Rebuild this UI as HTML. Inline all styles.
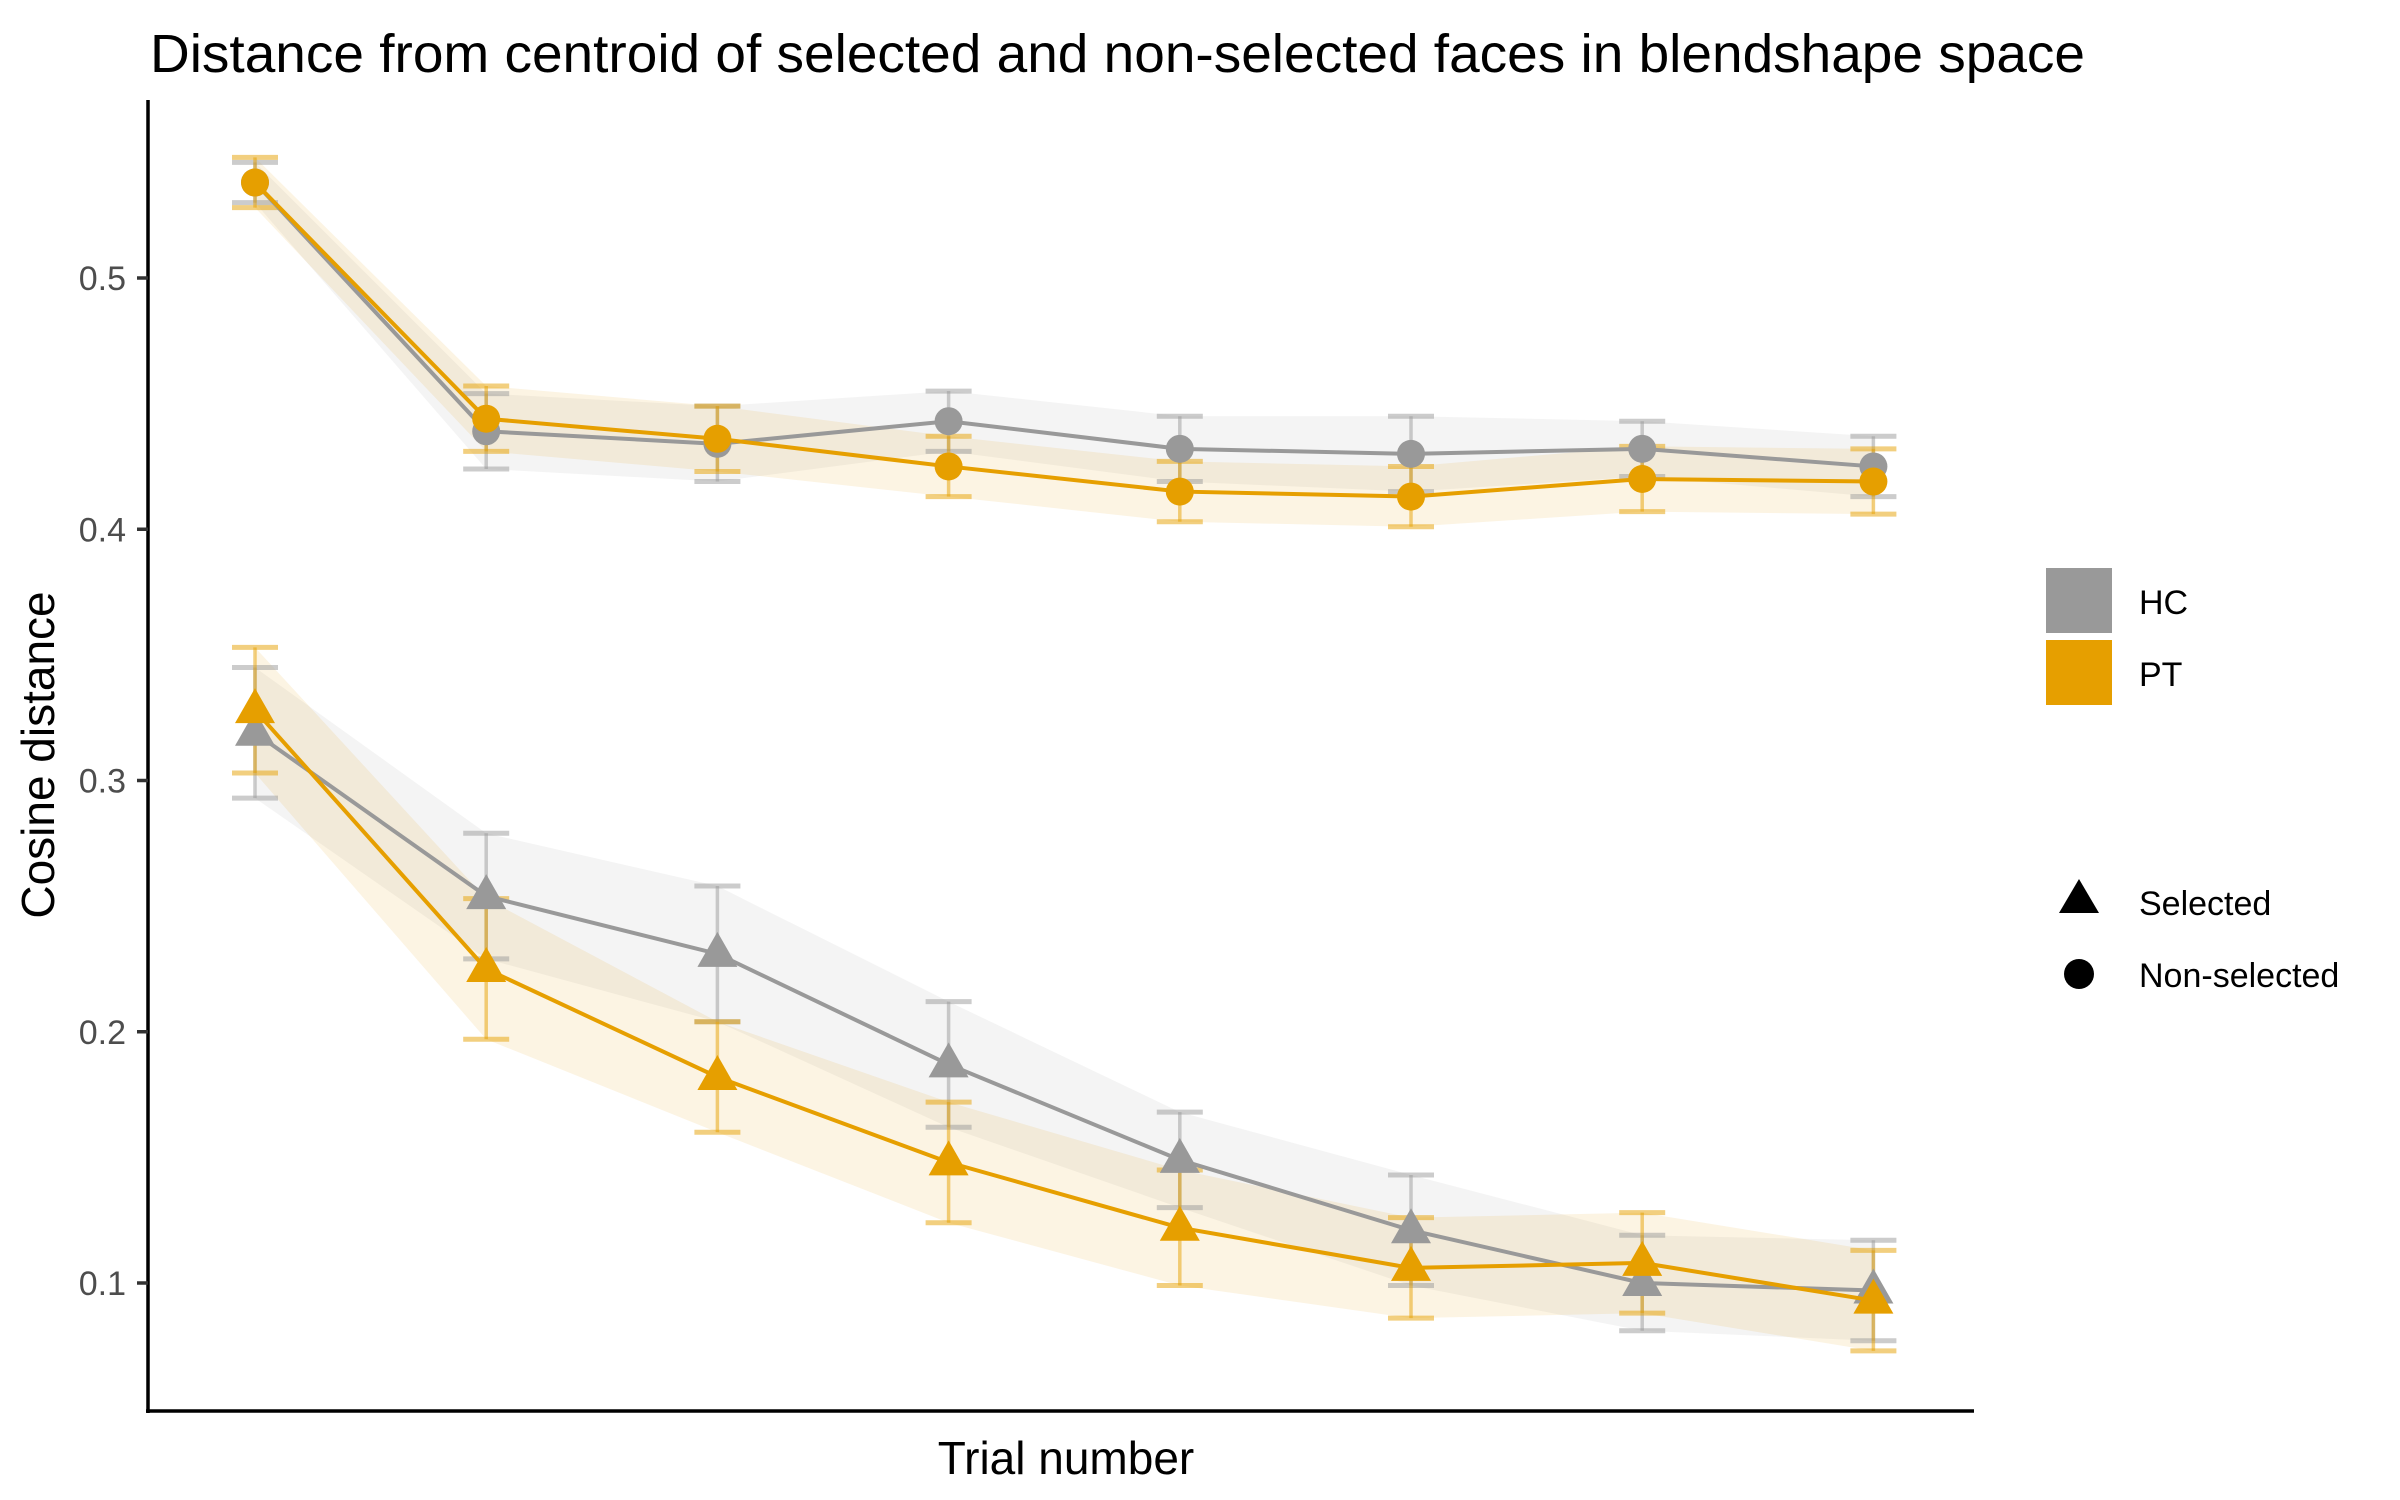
<!DOCTYPE html>
<html><head><meta charset="utf-8"><style>
html,body{margin:0;padding:0;background:#fff;}
svg{display:block;font-family:"Liberation Sans",Arial,sans-serif;}
</style></head><body>
<svg id="chart" width="2400" height="1500" viewBox="0 0 2400 1500" xmlns="http://www.w3.org/2000/svg">
<rect width="2400" height="1500" fill="#fff"/>
<text x="150" y="72" font-size="54" fill="#000" textLength="1935" lengthAdjust="spacingAndGlyphs">Distance from centroid of selected and non-selected faces in blendshape space</text>
<g id="plot"></g>
<line x1="148" y1="100" x2="148" y2="1413" stroke="#000" stroke-width="3.5"/>
<line x1="146" y1="1411" x2="1974" y2="1411" stroke="#000" stroke-width="3.5"/>
<g id="yticks"></g>
<text transform="translate(54,755) rotate(-90)" text-anchor="middle" font-size="46" fill="#000">Cosine distance</text>
<text x="1066" y="1474" text-anchor="middle" font-size="46" fill="#000">Trial number</text>
<g>
<rect x="2046" y="568" width="66" height="65" fill="#999999"/>
<text x="2139" y="614" font-size="34" fill="#000">HC</text>
<rect x="2046" y="640" width="66" height="65" fill="#E69F00"/>
<text x="2139" y="686" font-size="34" fill="#000">PT</text>
</g>
<g>
<polygon points="2079,879 2099,913 2059,913" fill="#000"/>
<text x="2139" y="915" font-size="34" fill="#000">Selected</text>
<circle cx="2079" cy="974" r="15" fill="#000"/>
<text x="2139" y="987" font-size="34" fill="#000">Non-selected</text>
</g>
</svg>
<script>
const trials = [1,2,3,4,5,6,7,8];
const hcNonSel = [0.538,0.439,0.434,0.443,0.432,0.430,0.432,0.425];
const hcNonSelErr = [0.008,0.015,0.015,0.012,0.013,0.015,0.011,0.012];
const ptNonSel = [0.538,0.444,0.436,0.425,0.415,0.413,0.420,0.419];
const ptNonSelErr = [0.010,0.013,0.013,0.012,0.012,0.012,0.013,0.013];
const hcSel = [0.319,0.254,0.231,0.187,0.149,0.121,0.100,0.097];
const hcSelErr = [0.026,0.025,0.027,0.025,0.019,0.022,0.019,0.020];
const ptSel = [0.328,0.225,0.182,0.148,0.122,0.106,0.108,0.093];
const ptSelErr = [0.025,0.028,0.022,0.024,0.023,0.020,0.020,0.020];
const yTicks = [0.1,0.2,0.3,0.4,0.5];
const yTickLabels = ["0.1","0.2","0.3","0.4","0.5"];

const NS = "http://www.w3.org/2000/svg";
function xs(t){ return 255 + (t-1)*231.2; }
function ys(v){ return 278 + (0.5 - v)*2512.5; }
function mk(tag, attrs, parent){
  const e = document.createElementNS(NS, tag);
  for (const k in attrs) e.setAttribute(k, attrs[k]);
  parent.appendChild(e); return e;
}
const plot = document.getElementById('plot');
const yt = document.getElementById('yticks');

yTicks.forEach((v,i)=>{
  const l = mk('line',{x1:137,x2:148,y1:ys(v),y2:ys(v),stroke:'#333','stroke-width':3.5},yt);
  
  
  const t = mk('text',{x:126,y:ys(v)+12,'text-anchor':'end','font-size':34,fill:'#4d4d4d'},yt);
  t.textContent = yTickLabels[i];
  
  
});

const series = [
  {v:hcNonSel,e:hcNonSelErr,c:'#999999',shape:'circle',name:'hc-non-selected'},
  {v:ptNonSel,e:ptNonSelErr,c:'#E69F00',shape:'circle',name:'pt-non-selected'},
  {v:hcSel,e:hcSelErr,c:'#999999',shape:'triangle',name:'hc-selected'},
  {v:ptSel,e:ptSelErr,c:'#E69F00',shape:'triangle',name:'pt-selected'}
];
series.forEach(s=>{
  let pts = trials.map((t,i)=>xs(t)+','+ys(s.v[i]+s.e[i]));
  pts = pts.concat(trials.slice().reverse().map((t,j)=>{const i=trials.length-1-j; return xs(t)+','+ys(s.v[i]-s.e[i]);}));
  const r = mk('polygon',{points:pts.join(' '),fill:s.c,'fill-opacity':0.11},plot);
  
  
});
series.forEach(s=>{
  trials.forEach((t,i)=>{
    const g = mk('g',{stroke:s.c,'stroke-opacity':0.5,'stroke-width':3.5,fill:'none'},plot);
    
    
    const x = xs(t), y1 = ys(s.v[i]+s.e[i]), y2 = ys(s.v[i]-s.e[i]);
    mk('line',{x1:x,x2:x,y1:y1,y2:y2},g);
    mk('line',{x1:x-23,x2:x+23,y1:y1,y2:y1,'stroke-width':5},g);
    mk('line',{x1:x-23,x2:x+23,y1:y2,y2:y2,'stroke-width':5},g);
  });
});
series.forEach(s=>{
  const d = trials.map((t,i)=>(i?'L':'M')+xs(t)+' '+ys(s.v[i])).join(' ');
  const p = mk('path',{d:d,stroke:s.c,'stroke-width':4,fill:'none'},plot);
  
  
  trials.forEach((t,i)=>{
    const x = xs(t), y = ys(s.v[i]);
    let m;
    if (s.shape==='circle') m = mk('circle',{cx:x,cy:y,r:14,fill:s.c},plot);
    else m = mk('polygon',{points:`${x},${y-22} ${x+20},${y+13} ${x-20},${y+13}`,fill:s.c},plot);
    
    
  });
});
</script>
</body></html>
